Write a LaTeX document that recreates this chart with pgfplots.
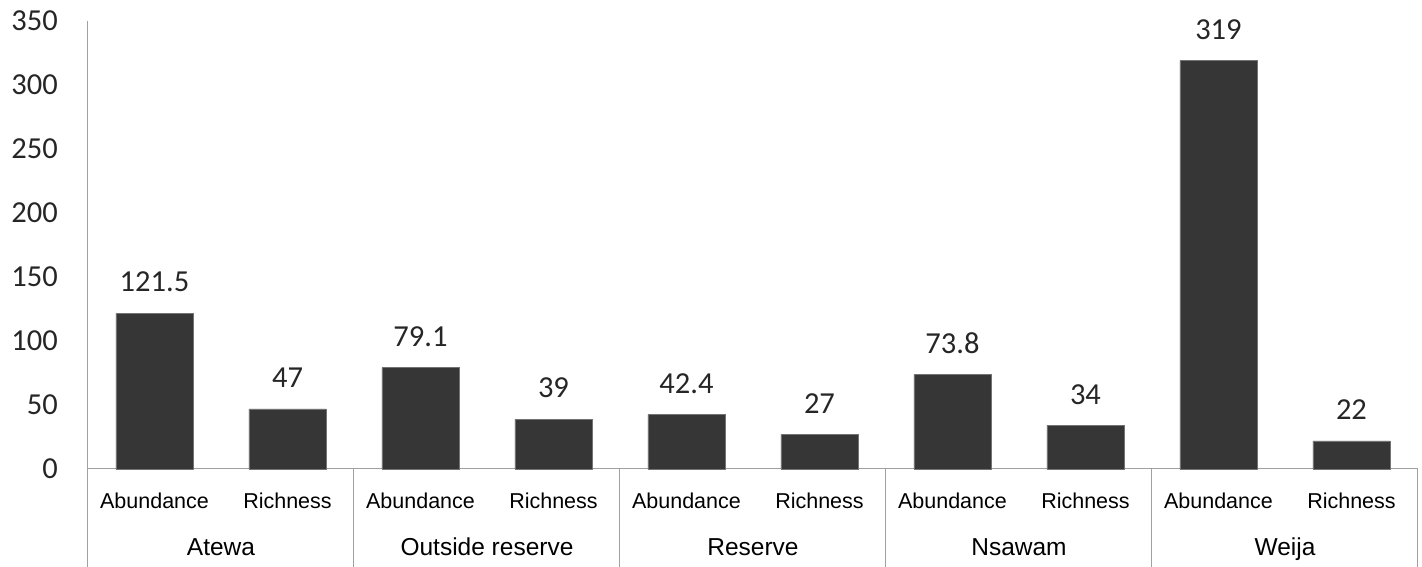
\documentclass[border=0pt]{standalone}
\usepackage{pgfplots}
\pgfplotsset{compat=1.18}
\usepackage{fontspec}
\setmainfont{Liberation Sans}
\newfontfamily\carlito{Carlito}
\definecolor{axisgray}{RGB}{160,160,160}
\definecolor{barfill}{RGB}{54,54,54}
\begin{document}
\begin{tikzpicture}
\path[use as bounding box] (-88pt,-98pt) rectangle (1334pt,469pt);
\begin{axis}[
  at={(0pt,0pt)}, anchor=south west,
  scale only axis, width=1330pt, height=448pt,
  xmin=-0.5, xmax=9.5, ymin=0, ymax=350,
  axis x line=bottom, axis y line=left,
  axis line style={-, draw=axisgray, line width=1pt},
  every outer x axis line/.append style={-},
  every outer y axis line/.append style={-},
  ytick={0,50,...,350},
  xtick={0,...,9},
  xticklabels={Abundance,Richness,Abundance,Richness,Abundance,Richness,Abundance,Richness,Abundance,Richness},
  major tick length=0pt,
  tick style={draw=none},
  /pgf/number format/assume math mode=true,
  xticklabel style={font=\fontsize{21.5}{21.5}\selectfont, anchor=base, yshift=-40pt, inner sep=0pt, text=black},
  yticklabel style={font=\carlito\fontsize{30.5}{30.5}\selectfont, anchor=east, xshift=-30pt, inner sep=0pt, text=black!85},
  ybar, bar width=77pt, bar shift=0pt,
  nodes near coords, point meta=explicit symbolic,
  nodes near coords style={font=\carlito\fontsize{30.5}{30.5}\selectfont, anchor=south, inner sep=0pt, yshift=21pt, text=black!85},
  clip=false,
]
\addplot[fill=barfill, draw=black!55, line width=0.5pt] table[x=x, y=y, meta=lab] {
x y lab
0 121.5 121.5
1 47 47
2 79.1 79.1
3 39 39
4 42.4 42.4
5 27 27
6 73.8 73.8
7 34 34
8 319 319
9 22 22
};
\foreach \b in {-0.5,1.5,3.5,5.5,7.5,9.5}{
  \edef\tmp{\noexpand\draw[axisgray, line width=1pt] (axis cs:\b,0) -- ++(0pt,-98pt);}
  \tmp
}
\node[font=\fontsize{24.5}{24.5}\selectfont, anchor=base, yshift=-87pt] at (axis cs:0.5,0) {Atewa};
\node[font=\fontsize{24.5}{24.5}\selectfont, anchor=base, yshift=-87pt] at (axis cs:2.5,0) {Outside reserve};
\node[font=\fontsize{24.5}{24.5}\selectfont, anchor=base, yshift=-87pt] at (axis cs:4.5,0) {Reserve};
\node[font=\fontsize{24.5}{24.5}\selectfont, anchor=base, yshift=-87pt] at (axis cs:6.5,0) {Nsawam};
\node[font=\fontsize{24.5}{24.5}\selectfont, anchor=base, yshift=-87pt] at (axis cs:8.5,0) {Weija};
\end{axis}
\end{tikzpicture}
\end{document}
